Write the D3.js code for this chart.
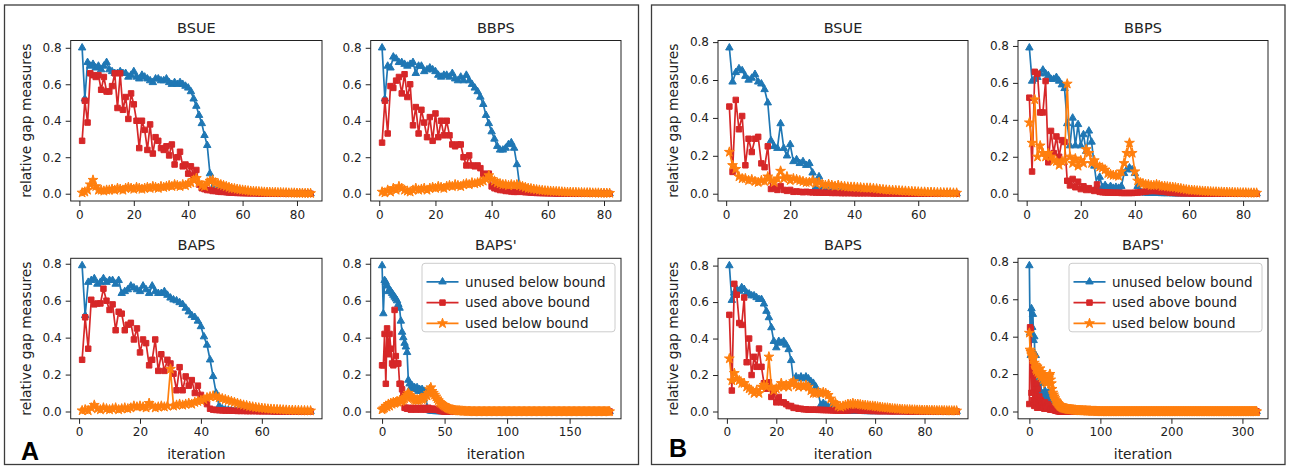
<!DOCTYPE html>
<html>
<head>
<meta charset="utf-8">
<script src="https://cdn.jsdelivr.net/npm/d3@7"></script>
<style>
  body { margin: 0; background: #fff; }
  text { font-family: "DejaVu Sans", sans-serif; fill: #222; }
</style>
</head>
<body>
<div id="chart"></div>
<script>
// ---- data ----
var seriesNames = ["unused below bound", "used above bound", "used below bound"];
var yTicks = [0, 0.2, 0.4, 0.6, 0.8];

// panel A
var aBsueTicks = [0, 20, 40, 60, 80];
var aBsueUnused = [0.80,0.52,0.72,0.70,0.71,0.69,0.70,0.68,0.70,0.72,
  0.68,0.67,0.66,0.66,0.67,0.66,0.66,0.64,0.65,0.67,
  0.64,0.63,0.65,0.64,0.63,0.62,0.61,0.63,0.63,0.62,
  0.62,0.63,0.61,0.60,0.61,0.60,0.61,0.60,0.59,0.58,
  0.56,0.52,0.48,0.43,0.385,0.32,0.265,0.11,0.03,0.02,
  0.015,0.01,0.01,0.008,0.006,0.005,0.004,0.004,0.003,0.003,
  0.002,0.002,0.002,0.002,0.001,0.001,0.001,0.001,0.001,0.001,
  0.001,0.001,0,0,0,0,0,0,0,0,
  0,0,0,0,0];
var aBsueAbove = [0.29,0.51,0.39,0.66,0.65,0.64,0.65,0.57,0.64,0.56,
  0.56,0.59,0.66,0.47,0.66,0.46,0.53,0.41,0.55,0.49,
  0.40,0.25,0.40,0.35,0.24,0.38,0.22,0.31,0.29,0.25,
  0.24,0.26,0.21,0.27,0.16,0.20,0.23,0.15,0.16,0.11,
  0.15,0.10,0.13,0.05,0.03,0.025,0.02,0.02,0.015,0.015,
  0.012,0.01,0.01,0.008,0.007,0.006,0.005,0.004,0.004,0.003,
  0.003,0.002,0.002,0.002,0.002,0.001,0.001,0.001,0.001,0.001,
  0.001,0.001,0,0,0,0,0,0,0,0,
  0,0,0,0,0];
var aBsueBelow = [0.005,0.01,0.02,0.05,0.075,0.04,0.02,0.02,0.015,0.02,
  0.02,0.025,0.02,0.03,0.025,0.02,0.03,0.035,0.03,0.025,
  0.035,0.03,0.025,0.03,0.035,0.03,0.04,0.035,0.03,0.04,
  0.035,0.04,0.045,0.04,0.05,0.045,0.04,0.05,0.045,0.055,
  0.06,0.075,0.085,0.06,0.045,0.04,0.06,0.07,0.075,0.06,
  0.055,0.05,0.045,0.04,0.035,0.03,0.028,0.025,0.022,0.02,
  0.018,0.016,0.014,0.013,0.012,0.011,0.01,0.009,0.008,0.008,
  0.007,0.007,0.006,0.006,0.005,0.005,0.004,0.004,0.004,0.003,
  0.003,0.003,0.002,0.002,0.002];

var aBbpsTicks = [0, 20, 40, 60, 80];
var aBbpsUnused = [0.80,0.52,0.70,0.69,0.75,0.74,0.72,0.72,0.71,0.70,
  0.71,0.72,0.66,0.70,0.70,0.67,0.68,0.69,0.68,0.67,
  0.65,0.64,0.65,0.65,0.64,0.66,0.63,0.62,0.64,0.62,
  0.65,0.62,0.60,0.58,0.56,0.53,0.49,0.43,0.385,0.34,
  0.30,0.26,0.24,0.24,0.25,0.27,0.28,0.25,0.16,0.04,
  0.02,0.01,0.008,0.006,0.005,0.004,0.003,0.003,0.002,0.002,
  0.002,0.001,0.001,0.001,0.001,0.001,0,0,0,0,
  0,0,0,0,0,0,0,0,0,0,
  0,0];
var aBbpsAbove = [0.28,0.51,0.33,0.59,0.58,0.62,0.64,0.55,0.655,0.53,
  0.60,0.375,0.475,0.33,0.46,0.39,0.31,0.42,0.29,0.44,
  0.31,0.40,0.32,0.40,0.32,0.27,0.26,0.27,0.27,0.20,
  0.155,0.21,0.155,0.15,0.155,0.14,0.11,0.09,0.11,0.04,
  0.03,0.025,0.02,0.02,0.015,0.015,0.012,0.01,0.01,0.012,
  0.01,0.008,0.008,0.006,0.005,0.004,0.004,0.003,0.003,0.002,
  0.002,0.002,0.001,0.001,0.001,0.001,0.001,0,0,0,
  0,0,0,0,0,0,0,0,0,0,
  0,0];
var aBbpsBelow = [0.01,0.005,0.02,0.01,0.03,0.02,0.04,0.03,0.02,0.015,
  0.01,0.02,0.03,0.02,0.025,0.03,0.02,0.03,0.035,0.03,
  0.04,0.035,0.03,0.04,0.045,0.04,0.05,0.045,0.04,0.05,
  0.055,0.05,0.06,0.055,0.06,0.065,0.07,0.08,0.10,0.08,
  0.07,0.06,0.055,0.05,0.05,0.045,0.05,0.045,0.05,0.045,
  0.04,0.035,0.03,0.028,0.025,0.022,0.02,0.018,0.016,0.015,
  0.014,0.013,0.012,0.011,0.01,0.009,0.008,0.008,0.007,0.007,
  0.006,0.006,0.005,0.005,0.005,0.004,0.004,0.004,0.003,0.003,
  0.003,0.003];

var aBapsTicks = [0, 20, 40, 60];
var aBapsUnused = [0.79,0.52,0.70,0.71,0.72,0.69,0.70,0.72,0.70,0.71,
  0.71,0.69,0.71,0.64,0.65,0.66,0.68,0.67,0.66,0.65,
  0.68,0.66,0.64,0.68,0.65,0.64,0.64,0.65,0.63,0.615,
  0.605,0.60,0.59,0.58,0.56,0.54,0.52,0.51,0.49,0.46,
  0.405,0.36,0.28,0.19,0.10,0.03,0.015,0.01,0.008,0.006,
  0.005,0.004,0.003,0.003,0.002,0.002,0.002,0.001,0.001,0.001,
  0.001,0,0,0,0,0,0,0,0,0,
  0,0,0,0,0,0];
var aBapsAbove = [0.28,0.51,0.34,0.605,0.58,0.585,0.585,0.665,0.60,0.55,
  0.58,0.44,0.54,0.53,0.44,0.47,0.48,0.39,0.45,0.32,
  0.39,0.37,0.25,0.28,0.39,0.22,0.31,0.22,0.28,0.26,
  0.205,0.115,0.24,0.115,0.19,0.14,0.17,0.10,0.14,0.09,
  0.06,0.04,0.015,0.01,0.008,0.007,0.006,0.005,0.005,0.004,
  0.004,0.003,0.003,0.003,0.002,0.002,0.002,0.002,0.001,0.001,
  0.001,0.001,0.001,0,0,0,0,0,0,0,
  0,0,0,0,0,0];
var aBapsBelow = [0.005,0.01,0.005,0.02,0.035,0.015,0.01,0.02,0.015,0.01,
  0.015,0.02,0.01,0.015,0.02,0.015,0.02,0.03,0.025,0.03,
  0.025,0.02,0.045,0.03,0.02,0.025,0.03,0.025,0.03,0.23,
  0.03,0.035,0.04,0.035,0.04,0.045,0.04,0.05,0.055,0.06,
  0.065,0.075,0.08,0.085,0.08,0.075,0.07,0.065,0.06,0.055,
  0.05,0.045,0.04,0.035,0.032,0.028,0.025,0.022,0.02,0.018,
  0.016,0.014,0.013,0.012,0.011,0.01,0.009,0.008,0.007,0.007,
  0.006,0.006,0.005,0.005,0.004,0.004];

var aBapspTicks = [0, 50, 100, 150];
var aBapspUnused = [0.79,0.53,0.71,0.70,0.68,0.65,0.66,0.65,0.64,0.63,
  0.62,0.61,0.60,0.58,0.56,0.49,0.43,0.40,0.37,0.35,
  0.32,0.17,0.15,0.13,0.14,0.12,0.13,0.12,0.13,0.11,
  0.12,0.11,0.12,0.10,0.11,0.10,0.02,0.01,0.005,0.003,
  0.002,0.001,0.001,
  0,0,0,0,0,0,0,0,0,0,0,0,0,0,0,0,0,0,0,0,
  0,0,0,0,0,0,0,0,0,0,0,0,0,0,0,0,0,0,0,0,
  0,0,0,0,0,0,0,0,0,0,0,0,0,0,0,0,0,0,0,0,
  0,0,0,0,0,0,0,0,0,0,0,0,0,0,0,0,0,0,0,0,
  0,0,0,0,0,0,0,0,0,0,0,0,0,0,0,0,0,0,0,0,
  0,0,0,0,0,0,0,0,0,0,0,0,0,0,0,0,0,0,0,0,
  0,0,0,0,0,0,0,0,0,0,0,0,0,0,0,0,0,0,0,0];
var aBapspAbove = [0.25,0.25,0.42,0.15,0.45,0.31,0.42,0.34,0.26,0.25,
  0.55,0.30,0.26,0.26,0.15,0.15,0.12,0.09,0.02,0.02,
  0.015,0.02,0.015,0.01,0.015,0.02,0.015,0.01,0.015,0.02,
  0.015,0.01,0.015,0.02,0.015,0.01,0.015,0.02,0.015,0.01,
  0.015,0.012,0.015,0.01,0.012,0.008,0.005,0.003,0.002,0.001,
  0,0,0,0,0,0,0,0,0,0,0,0,0,0,0,0,0,0,0,0,
  0,0,0,0,0,0,0,0,0,0,0,0,0,0,0,0,0,0,0,0,
  0,0,0,0,0,0,0,0,0,0,0,0,0,0,0,0,0,0,0,0,
  0,0,0,0,0,0,0,0,0,0,0,0,0,0,0,0,0,0,0,0,
  0,0,0,0,0,0,0,0,0,0,0,0,0,0,0,0,0,0,0,0,
  0,0,0,0,0,0,0,0,0,0,0,0,0,0,0,0,0,0,0,0,
  0,0,0,0,0,0,0,0,0,0,0,0,0];
var aBapspBelow = [0.01,0.015,0.02,0.03,0.025,0.04,0.03,0.045,0.04,0.05,
  0.045,0.05,0.055,0.05,0.06,0.055,0.06,0.065,0.07,0.08,
  0.09,0.10,0.09,0.08,0.075,0.07,0.065,0.06,0.065,0.06,
  0.065,0.07,0.065,0.07,0.08,0.09,0.085,0.10,0.12,0.13,
  0.11,0.10,0.09,0.08,0.07,0.06,0.05,0.045,0.04,0.035,
  0.03,0.025,0.02,0.018,0.015,0.012,0.01,0.008,0.007,0.006,
  0.005,0.004,0.004,0.003,0.003,0.002,0.002,0.002,0.001,0.001,
  0.001,0.001,
  0,0,0,0,0,0,0,0,0,0,0,0,0,0,0,0,0,0,0,0,
  0,0,0,0,0,0,0,0,0,0,0,0,0,0,0,0,0,0,0,0,
  0,0,0,0,0,0,0,0,0,0,0,0,0,0,0,0,0,0,0,0,
  0,0,0,0,0,0,0,0,0,0,0,0,0,0,0,0,0,0,0,0,
  0,0,0,0,0,0,0,0,0,0,0,0,0,0,0,0,0,0,0,0,
  0,0,0,0,0,0,0,0,0,0,0];

// panel B
var bBsueTicks = [0, 20, 40, 60];
var bBsueUnused = [0.77,0.59,0.64,0.66,0.65,0.62,0.60,0.61,0.63,0.59,
  0.58,0.55,0.48,0.28,0.25,0.24,0.37,0.24,0.20,0.26,
  0.17,0.18,0.16,0.17,0.15,0.16,0.11,0.035,0.09,0.03,
  0.02,0.015,0.012,0.01,0.008,0.007,0.006,0.005,0.005,0.004,
  0.004,0.003,0.003,0.003,0.002,0.002,0.002,0.002,0.001,0.001,
  0.001,0.001,0.001,0,0,0,0,0,0,0,
  0,0,0,0,0,0,0,0,0,0,
  0,0];
var bBsueAbove = [0.46,0.115,0.495,0.34,0.41,0.15,0.29,0.22,0.29,0.30,
  0.16,0.14,0.25,0.025,0.03,0.02,0.04,0.02,0.015,0.02,
  0.01,0.012,0.01,0.008,0.01,0.008,0.007,0.006,0.006,0.005,
  0.005,0.005,0.004,0.004,0.004,0.003,0.003,0.003,0.003,0.002,
  0.002,0.002,0.002,0.002,0.002,0.001,0.001,0.001,0.001,0.001,
  0.001,0.001,0.001,0.001,0.001,0,0,0,0,0,
  0,0,0,0,0,0,0,0,0,0,
  0,0];
var bBsueBelow = [0.22,0.15,0.13,0.09,0.08,0.08,0.07,0.075,0.065,0.06,
  0.07,0.065,0.09,0.07,0.06,0.08,0.12,0.08,0.09,0.07,
  0.08,0.075,0.07,0.065,0.06,0.06,0.07,0.055,0.06,0.05,
  0.045,0.05,0.045,0.04,0.045,0.04,0.038,0.036,0.035,0.035,
  0.033,0.032,0.03,0.03,0.03,0.028,0.026,0.024,0.022,0.02,
  0.019,0.018,0.017,0.016,0.015,0.014,0.013,0.012,0.011,0.01,
  0.009,0.009,0.008,0.008,0.007,0.006,0.006,0.005,0.005,0.005,
  0.004,0.004];

var bBbpsTicks = [0, 20, 40, 60, 80];
var bBbpsUnused = [0.79,0.61,0.62,0.63,0.65,0.67,0.65,0.64,0.62,0.62,
  0.63,0.61,0.59,0.57,0.38,0.26,0.41,0.26,0.375,0.26,
  0.32,0.23,0.34,0.28,0.15,0.04,0.09,0.035,0.045,0.03,
  0.04,0.03,0.035,0.03,0.04,0.11,0.13,0.14,0.13,0.11,
  0.04,0.01,0.005,0.004,0.003,0.003,0.002,0.002,0.002,0.001,
  0.001,0.001,0.001,0,0,0,0,0,0,0,
  0,0,0,0,0,0,0,0,0,0,
  0,0,0,0,0,0,0,0,0,0,
  0,0,0,0,0];
var bBbpsAbove = [0.52,0.12,0.66,0.65,0.44,0.44,0.61,0.17,0.34,0.22,
  0.31,0.20,0.29,0.28,0.07,0.045,0.08,0.035,0.065,0.025,
  0.04,0.02,0.03,0.02,0.015,0.05,0.01,0.008,0.007,0.006,
  0.006,0.005,0.005,0.005,0.004,0.004,0.004,0.004,0.004,0.005,
  0.006,0.008,0.01,0.012,0.014,0.015,0.015,0.014,0.013,0.012,
  0.01,0.008,0.006,0.005,0.004,0.003,0.003,0.002,0.002,0.002,
  0.001,0.001,0.001,0.001,0.001,0,0,0,0,0,
  0,0,0,0,0,0,0,0,0,0,
  0,0,0,0,0];
var bBbpsBelow = [0.385,0.275,0.51,0.20,0.26,0.22,0.20,0.22,0.20,0.18,
  0.175,0.155,0.175,0.18,0.595,0.20,0.165,0.19,0.15,0.18,
  0.165,0.24,0.22,0.165,0.18,0.155,0.145,0.14,0.13,0.11,
  0.105,0.10,0.10,0.095,0.12,0.165,0.22,0.275,0.22,0.12,
  0.07,0.06,0.055,0.05,0.05,0.045,0.045,0.05,0.045,0.04,
  0.04,0.038,0.036,0.035,0.033,0.03,0.028,0.025,0.022,0.02,
  0.019,0.018,0.016,0.015,0.014,0.013,0.012,0.011,0.01,0.01,
  0.009,0.009,0.008,0.008,0.007,0.007,0.006,0.006,0.005,0.005,
  0.005,0.004,0.004,0.004,0.004];

var bBapsTicks = [0, 20, 40, 60, 80];
var bBapsUnused = [0.80,0.61,0.65,0.67,0.66,0.68,0.67,0.65,0.645,0.635,
  0.635,0.625,0.615,0.615,0.59,0.55,0.515,0.46,0.385,0.35,
  0.385,0.375,0.385,0.365,0.34,0.28,0.165,0.19,0.18,0.19,
  0.18,0.19,0.18,0.165,0.155,0.135,0.10,0.035,0.045,0.035,
  0.025,0.025,0.02,0.01,0.005,0.004,0.003,0.003,0.002,0.002,
  0.002,0.001,0.001,0.001,0.001,0,0,0,0,0,
  0,0,0,0,0,0,0,0,0,0,
  0,0,0,0,0,0,0,0,0,0,
  0,0,0,0,0,0,0,0,0,0,
  0,0,0];
var bBapsAbove = [0.53,0.115,0.70,0.64,0.485,0.475,0.625,0.27,0.40,0.20,
  0.30,0.245,0.345,0.245,0.155,0.125,0.16,0.08,0.11,0.05,
  0.08,0.05,0.05,0.04,0.03,0.03,0.02,0.02,0.015,0.015,
  0.012,0.012,0.01,0.01,0.01,0.01,0.009,0.009,0.008,0.008,
  0.007,0.007,0.006,0.006,0.005,0.005,0.005,0.005,0.006,0.007,
  0.008,0.008,0.007,0.006,0.005,0.004,0.004,0.003,0.003,0.003,
  0.002,0.002,0.002,0.002,0.002,0.001,0.001,0.001,0.001,0.001,
  0.001,0.001,0,0,0,0,0,0,0,0,
  0,0,0,0,0,0,0,0,0,0,
  0,0,0];
var bBapsBelow = [0.29,0.17,0.21,0.18,0.17,0.155,0.155,0.135,0.125,0.115,
  0.10,0.115,0.10,0.135,0.145,0.135,0.30,0.135,0.115,0.125,
  0.135,0.155,0.135,0.145,0.135,0.155,0.165,0.145,0.135,0.145,
  0.135,0.145,0.135,0.115,0.10,0.10,0.105,0.10,0.105,0.10,
  0.09,0.07,0.05,0.045,0.03,0.025,0.03,0.035,0.04,0.04,
  0.045,0.04,0.04,0.038,0.035,0.034,0.032,0.03,0.03,0.028,
  0.026,0.024,0.022,0.02,0.02,0.018,0.016,0.015,0.014,0.013,
  0.012,0.011,0.01,0.01,0.009,0.009,0.008,0.008,0.007,0.007,
  0.007,0.006,0.006,0.006,0.005,0.005,0.005,0.005,0.004,0.004,
  0.004,0.004,0.004];

var bBapspTicks = [0, 100, 200, 300];
var bBapspUnused = [0.78,0.42,0.30,0.55,0.45,0.52,0.38,0.40,0.25,0.30,
  0.18,0.22,0.15,0.10,0.12,0.08,0.15,0.10,0.06,0.09,
  0.05,0.07,0.11,0.06,0.04,0.08,0.05,0.09,0.11,0.06,
  0.04,0.05,0.03,0.04,0.03,0.035,0.025,0.03,0.02,0.02,
  0.015,0.012,0.01,0.008,0.006,0.005,0.004,0.003,0.002,0.002,
  0.001,
  0,0,0,0,0,0,0,0,0,0,0,0,0,0,0,0,0,0,0,0,
  0,0,0,0,0,0,0,0,0,0,0,0,0,0,0,0,0,0,0,0,
  0,0,0,0,0,0,0,0,0,0,0,0,0,0,0,0,0,0,0,0,
  0,0,0,0,0,0,0,0,0,0,0,0,0,0,0,0,0,0,0,0,
  0,0,0,0,0,0,0,0,0,0,0,0,0,0,0,0,0,0,0,0,
  0,0,0,0,0,0,0,0,0,0,0,0,0,0,0,0,0,0,0,0,
  0,0,0,0,0,0,0,0,0,0,0,0,0,0,0,0,0,0,0,0,
  0,0,0,0,0,0,0,0,0,0,0,0,0,0,0,0,0,0,0,0,
  0,0,0,0,0,0,0,0,0,0,0,0,0,0,0,0,0,0,0,0,
  0,0,0,0,0,0,0,0,0,0,0,0,0,0,0,0,0,0,0,0,
  0,0,0,0,0,0,0,0,0,0,0,0,0,0,0,0,0,0,0,0,
  0,0,0,0,0,0,0,0,0,0,0,0,0,0,0,0,0,0,0,0,
  0,0,0,0,0,0,0,0,0,0,0,0,0,0,0,0,0,0,0,0,
  0,0,0,0,0,0,0,0,0,0];
var bBapspAbove = [0.04,0.45,0.44,0.10,0.28,0.06,0.22,0.03,0.20,0.05,
  0.15,0.02,0.12,0.04,0.08,0.02,0.06,0.03,0.05,0.02,
  0.04,0.015,0.05,0.02,0.03,0.015,0.04,0.02,0.03,0.01,
  0.02,0.01,0.015,0.01,0.01,0.008,0.006,0.005,0.004,0.003,
  0.002,0.002,0.001,
  0,0,0,0,0,0,0,0,0,0,0,0,0,0,0,0,0,0,0,0,
  0,0,0,0,0,0,0,0,0,0,0,0,0,0,0,0,0,0,0,0,
  0,0,0,0,0,0,0,0,0,0,0,0,0,0,0,0,0,0,0,0,
  0,0,0,0,0,0,0,0,0,0,0,0,0,0,0,0,0,0,0,0,
  0,0,0,0,0,0,0,0,0,0,0,0,0,0,0,0,0,0,0,0,
  0,0,0,0,0,0,0,0,0,0,0,0,0,0,0,0,0,0,0,0,
  0,0,0,0,0,0,0,0,0,0,0,0,0,0,0,0,0,0,0,0,
  0,0,0,0,0,0,0,0,0,0,0,0,0,0,0,0,0,0,0,0,
  0,0,0,0,0,0,0,0,0,0,0,0,0,0,0,0,0,0,0,0,
  0,0,0,0,0,0,0,0,0,0,0,0,0,0,0,0,0,0,0,0,
  0,0,0,0,0,0,0,0,0,0,0,0,0,0,0,0,0,0,0,0,
  0,0,0,0,0,0,0,0,0,0,0,0,0,0,0,0,0,0,0,0,
  0,0,0,0,0,0,0,0,0,0,0,0,0,0,0,0,0,0,0,0,
  0,0,0,0,0,0,0,0,0,0,0,0,0,0,0,0,0,0];
var bBapspBelow = [0.42,0.33,0.32,0.31,0.30,0.28,0.29,0.26,0.25,0.23,
  0.22,0.24,0.21,0.22,0.20,0.23,0.19,0.21,0.18,0.20,
  0.17,0.19,0.16,0.18,0.15,0.17,0.16,0.18,0.19,0.20,
  0.17,0.15,0.12,0.10,0.09,0.08,0.07,0.06,0.055,0.05,
  0.045,0.04,0.035,0.03,0.028,0.025,0.022,0.02,0.019,0.018,
  0.017,0.016,0.015,0.014,0.013,0.012,0.012,0.011,0.011,0.01,
  0.01,0.009,0.009,0.008,0.008,0.008,0.007,0.007,0.007,0.006,
  0.006,0.006,0.005,0.005,0.005,0.005,0.004,0.004,0.004,0.004,
  0.004,0.003,0.003,0.003,0.003,0.003,0.003,0.002,0.002,0.002,
  0.002,0.002,0.002,0.002,0.002,0.001,0.001,0.001,0.001,0.001,
  0,0,0,0,0,0,0,0,0,0,0,0,0,0,0,0,0,0,0,0,
  0,0,0,0,0,0,0,0,0,0,0,0,0,0,0,0,0,0,0,0,
  0,0,0,0,0,0,0,0,0,0,0,0,0,0,0,0,0,0,0,0,
  0,0,0,0,0,0,0,0,0,0,0,0,0,0,0,0,0,0,0,0,
  0,0,0,0,0,0,0,0,0,0,0,0,0,0,0,0,0,0,0,0,
  0,0,0,0,0,0,0,0,0,0,0,0,0,0,0,0,0,0,0,0,
  0,0,0,0,0,0,0,0,0,0,0,0,0,0,0,0,0,0,0,0,
  0,0,0,0,0,0,0,0,0,0,0,0,0,0,0,0,0,0,0,0,
  0,0,0,0,0,0,0,0,0,0,0,0,0,0,0,0,0,0,0,0,
  0,0,0,0,0,0,0,0,0,0,0,0,0,0,0,0,0,0,0,0,
  0,0,0,0,0,0,0,0,0,0,0,0,0,0,0,0,0,0,0,0,
  0];

// ---- styling ----
var colors = ["#1f77b4", "#d62728", "#ff7f0e"];
var symbols = [
  d3.symbol().type(d3.symbolTriangle).size(24),
  d3.symbol().type(d3.symbolSquare).size(30),
  d3.symbol().type(d3.symbolStar).size(30)
];

var width = 1289, height = 475;

var panels = [
  {letter: "A", x: 4.5, y: 5, w: 634, h: 459.5, lx: 21, ly: 460},
  {letter: "B", x: 651.5, y: 5, w: 633.5, h: 459.5, lx: 669, ly: 457}
];

var plots = [
  {title: "BSUE",  x: 70.7,  y: 40.5,  w: 251.3, start: 1, ticks: aBsueTicks,  data: [aBsueUnused, aBsueAbove, aBsueBelow], ylab: true},
  {title: "BBPS",  x: 370.7, y: 40.5,  w: 250.3, start: 1, ticks: aBbpsTicks,  data: [aBbpsUnused, aBbpsAbove, aBbpsBelow]},
  {title: "BAPS",  x: 70.7,  y: 258.3, w: 251.3, start: 1, ticks: aBapsTicks,  data: [aBapsUnused, aBapsAbove, aBapsBelow], ylab: true, xlab: true},
  {title: "BAPS'", x: 370.7, y: 258.3, w: 250.3, start: 0, ticks: aBapspTicks, data: [aBapspUnused, aBapspAbove, aBapspBelow], xlab: true, legend: true},
  {title: "BSUE",  x: 718,   y: 40.5,  w: 250,   start: 1, ticks: bBsueTicks,  data: [bBsueUnused, bBsueAbove, bBsueBelow], ylab: true},
  {title: "BBPS",  x: 1018,  y: 40.5,  w: 250,   start: 1, ticks: bBbpsTicks,  data: [bBbpsUnused, bBbpsAbove, bBbpsBelow]},
  {title: "BAPS",  x: 718,   y: 258.3, w: 250,   start: 1, ticks: bBapsTicks,  data: [bBapsUnused, bBapsAbove, bBapsBelow], ylab: true, xlab: true},
  {title: "BAPS'", x: 1018,  y: 258.3, w: 250,   start: 0, ticks: bBapspTicks, data: [bBapspUnused, bBapspAbove, bBapspBelow], xlab: true, legend: true}
];
var plotH = 160.5;

var svg = d3.select("#chart").append("svg")
  .attr("width", width)
  .attr("height", height);

svg.append("rect").attr("width", width).attr("height", height).attr("fill", "#fff");

// panel frames and letters
panels.forEach(function(p) {
  svg.append("rect")
    .attr("x", p.x).attr("y", p.y).attr("width", p.w).attr("height", p.h)
    .attr("fill", "none").attr("stroke", "#3c3c3c").attr("stroke-width", 1.3);
  svg.append("text")
    .attr("x", p.lx).attr("y", p.ly)
    .style("font-family", "'Liberation Sans', Arial, sans-serif")
    .style("font-weight", "bold").style("font-size", "25px")
    .style("fill", "#000")
    .text(p.letter);
});

plots.forEach(function(p, k) {
  var g = svg.append("g").attr("transform", "translate(" + p.x + "," + p.y + ")");

  // matplotlib style autoscale: data range plus 5% margins
  var n = d3.max(p.data, function(s) { return s.length; });
  var x0 = p.start, x1 = p.start + n - 1;
  var xm = (x1 - x0) * 0.05;
  var allY = [].concat.apply([], p.data);
  var y0 = d3.min(allY), y1 = d3.max(allY);
  var ym = (y1 - y0) * 0.05;

  var x = d3.scaleLinear().domain([x0 - xm, x1 + xm]).range([0, p.w]);
  var y = d3.scaleLinear().domain([y0 - ym, y1 + ym]).range([plotH, 0]);

  var clipId = "clip" + k;
  g.append("clipPath").attr("id", clipId)
    .append("rect").attr("width", p.w).attr("height", plotH);

  var plotArea = g.append("g").attr("clip-path", "url(#" + clipId + ")");

  var line = d3.line()
    .x(function(d, i) { return x(p.start + i); })
    .y(function(d) { return y(d); });

  p.data.forEach(function(series, s) {
    plotArea.append("path")
      .datum(series)
      .attr("fill", "none")
      .attr("stroke", colors[s])
      .attr("stroke-width", 1.7)
      .attr("stroke-linejoin", "round")
      .attr("d", line);

    plotArea.selectAll(".m" + s)
      .data(series)
      .enter().append("path")
      .attr("class", "m" + s)
      .attr("transform", function(d, i) { return "translate(" + x(p.start + i) + "," + y(d) + ")"; })
      .attr("d", symbols[s])
      .attr("fill", colors[s])
      .attr("stroke", colors[s])
      .attr("stroke-width", 1);
  });

  // axes
  var xAxis = g.append("g")
    .attr("transform", "translate(0," + plotH + ")")
    .call(d3.axisBottom(x).tickValues(p.ticks).tickSize(5).tickPadding(4));
  var yAxis = g.append("g")
    .call(d3.axisLeft(y).tickValues(yTicks).tickFormat(d3.format(".1f")).tickSize(5).tickPadding(4));

  [xAxis, yAxis].forEach(function(ax) {
    ax.select(".domain").remove();
    ax.selectAll("line").attr("stroke", "#222");
    ax.selectAll("text")
      .style("font-family", "'DejaVu Sans', sans-serif")
      .style("font-size", "12px")
      .attr("fill", "#222");
  });

  g.append("rect")
    .attr("width", p.w).attr("height", plotH)
    .attr("fill", "none").attr("stroke", "#222").attr("stroke-width", 1);

  g.append("text")
    .attr("x", p.w / 2).attr("y", -8)
    .attr("text-anchor", "middle")
    .style("font-size", "14.5px")
    .text(p.title);

  if (p.ylab) {
    g.append("text")
      .attr("transform", "translate(-40," + (plotH / 2) + ") rotate(-90)")
      .attr("text-anchor", "middle")
      .style("font-size", "13.8px")
      .text("relative gap measures");
  }
  if (p.xlab) {
    g.append("text")
      .attr("x", p.w / 2).attr("y", plotH + 40.5)
      .attr("text-anchor", "middle")
      .style("font-size", "13.8px")
      .text("iteration");
  }

  if (p.legend) {
    var lw = 193, lh = 68.5;
    var lg = g.append("g").attr("transform", "translate(" + (p.w - 6 - lw) + ",5)");
    lg.append("rect")
      .attr("width", lw).attr("height", lh).attr("rx", 3)
      .attr("fill", "#fff").attr("fill-opacity", 0.8)
      .attr("stroke", "#cccccc").attr("stroke-width", 1);
    seriesNames.forEach(function(name, s) {
      var cy = 18.5 + s * 20.8;
      lg.append("line")
        .attr("x1", 4.5).attr("x2", 36.5).attr("y1", cy).attr("y2", cy)
        .attr("stroke", colors[s]).attr("stroke-width", 1.7);
      lg.append("path")
        .attr("transform", "translate(20.5," + cy + ")")
        .attr("d", symbols[s])
        .attr("fill", colors[s]).attr("stroke", colors[s]).attr("stroke-width", 1);
      lg.append("text")
        .attr("x", 43).attr("y", cy).attr("dy", "0.36em")
        .style("font-size", "13.5px")
        .text(name);
    });
  }
});
</script>
</body>
</html>
